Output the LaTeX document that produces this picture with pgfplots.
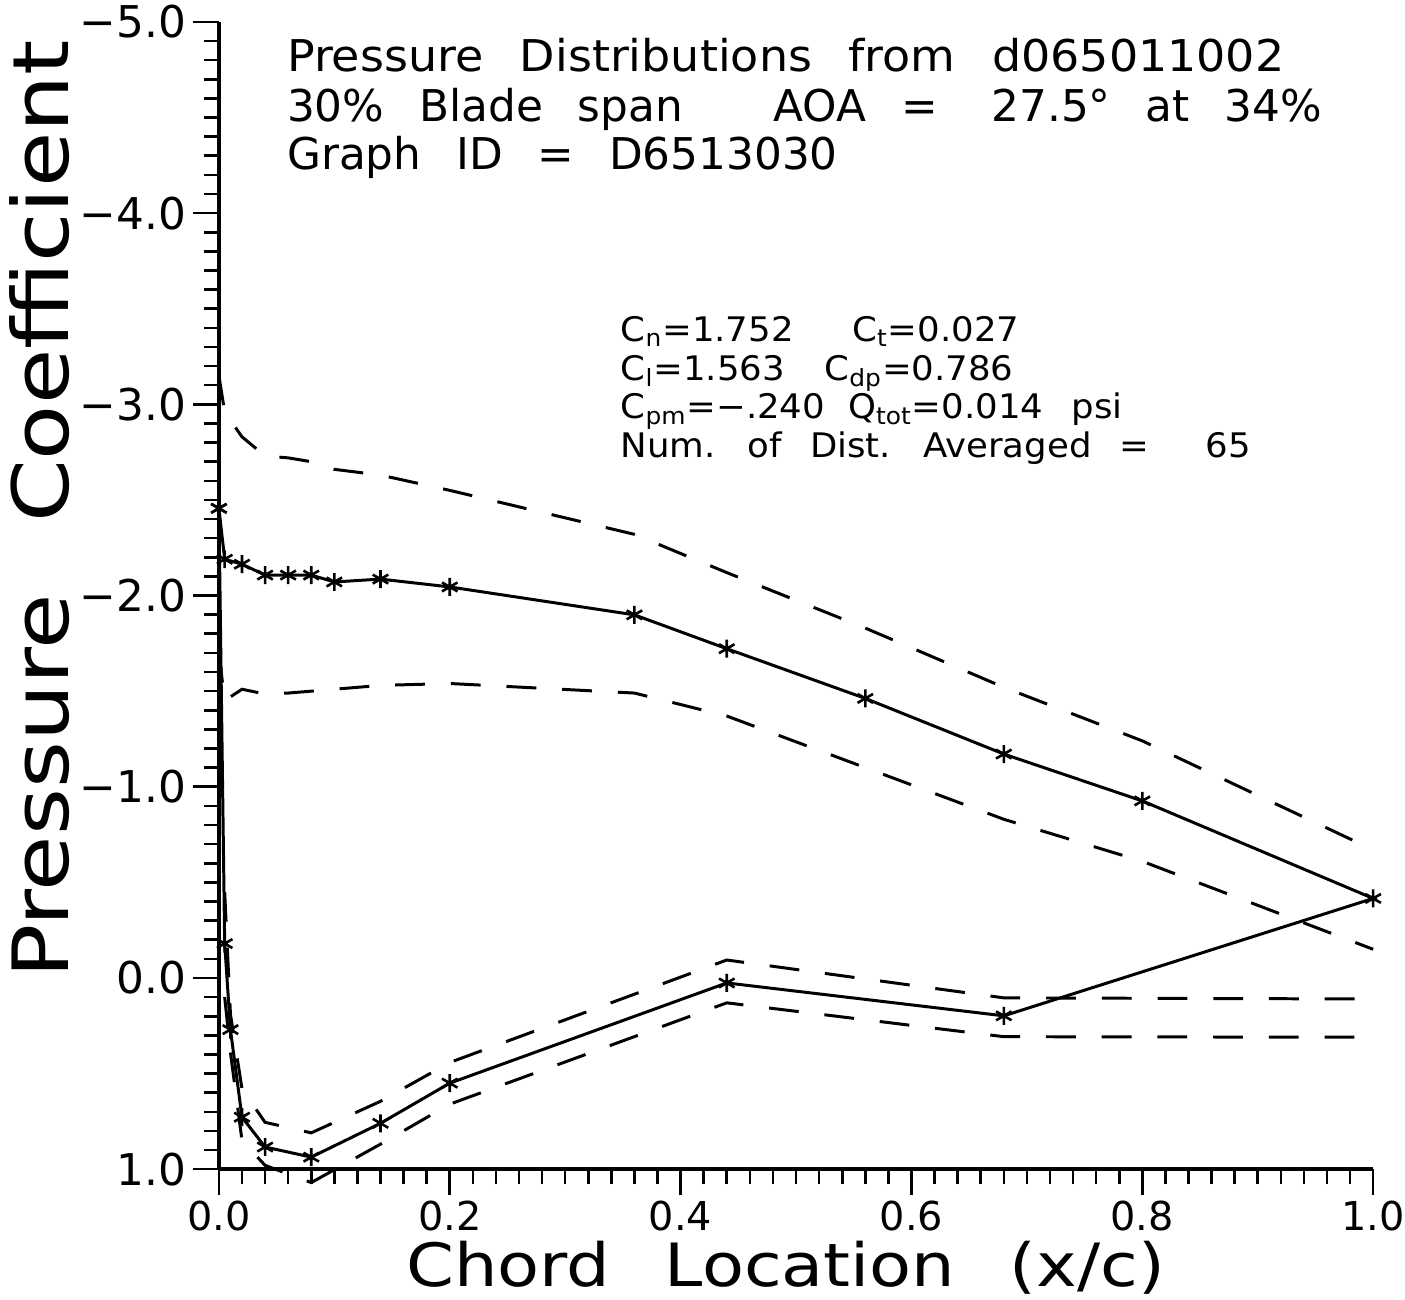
\documentclass[border=0pt]{standalone}
\usepackage{fontspec}
\setmainfont[WordSpace=2.5]{DejaVu Sans}
\usepackage{pgfplots}
\pgfplotsset{compat=1.18}

\begin{document}
\begin{tikzpicture}
\begin{axis}[
  scale only axis, width=580pt, height=576.5pt,
  xmin=0, xmax=1, ymin=-5, ymax=1, y dir=reverse,
  axis x line*=bottom, axis y line*=left,
  axis line style={line width=2pt},
  xtick={0,0.2,0.4,0.6,0.8,1},
  xticklabels={0.0,0.2,0.4,0.6,0.8,1.0},
  ytick={-5,-4,-3,-2,-1,0,1},
  yticklabels={−5.0,−4.0,−3.0,−2.0,−1.0,0.0,1.0},
  minor x tick num=9, minor y tick num=9,
  tick align=outside,
  major tick length=13pt, minor tick length=7.5pt,
  every tick/.style={black, line width=1.3pt},
  yticklabel style={font=\fontsize{22}{24}\selectfont},
  xticklabel style={font=\fontsize{20}{22}\selectfont, inner sep=1pt, yshift=-2pt},
  clip=false,
]
% mean distribution
\addplot[black, line width=1.5pt, mark=asterisk, mark size=4.5pt,
  mark options={solid, line width=1.3pt}] coordinates {
  (0,-2.456) (0.005,-2.19) (0.02,-2.164) (0.04,-2.107) (0.06,-2.107)
  (0.08,-2.107) (0.10,-2.071) (0.14,-2.086) (0.20,-2.045) (0.36,-1.899)
  (0.44,-1.722) (0.56,-1.462) (0.68,-1.171) (0.80,-0.926) (1.0,-0.416)
  (0.68,0.198) (0.44,0.026) (0.20,0.55) (0.14,0.760) (0.08,0.937)
  (0.04,0.884) (0.02,0.728) (0.01,0.27) (0.005,-0.18) (0,-2.456)
};
% upper surface envelopes
\addplot[black, line width=1.5pt, dash pattern=on 15pt off 13pt] coordinates {
  (0,-3.15) (0.005,-2.96) (0.02,-2.83) (0.04,-2.73) (0.06,-2.72)
  (0.08,-2.70) (0.10,-2.66) (0.14,-2.63) (0.20,-2.55) (0.36,-2.32)
  (0.44,-2.12) (0.56,-1.83) (0.68,-1.52) (0.80,-1.24) (1.0,-0.67)
};
\addplot[black, line width=1.5pt, dash pattern=on 15pt off 13pt] coordinates {
  (0,-1.70) (0.005,-1.45) (0.02,-1.51) (0.04,-1.485) (0.06,-1.49)
  (0.08,-1.50) (0.10,-1.51) (0.14,-1.53) (0.20,-1.54) (0.36,-1.49)
  (0.44,-1.37) (0.56,-1.10) (0.68,-0.83) (0.80,-0.61) (1.0,-0.15)
};
% lower surface envelopes
\addplot[black, line width=1.5pt, dash pattern=on 15pt off 13pt] coordinates {
  (0.005,-0.45) (0.01,0.19) (0.02,0.58) (0.04,0.755) (0.08,0.81)
  (0.14,0.645) (0.20,0.442) (0.44,-0.094) (0.68,0.104) (1.0,0.11)
};
\addplot[black, line width=1.5pt, dash pattern=on 15pt off 13pt] coordinates {
  (0.005,0.10) (0.01,0.39) (0.02,0.85) (0.04,0.98) (0.08,1.07)
  (0.14,0.869) (0.20,0.66) (0.44,0.13) (0.68,0.307) (1.0,0.31)
};
% titles
\node[anchor=base west, font=\fontsize{22}{24}\selectfont] at (axis cs:0.053,-4.74)
  {\scalebox{1.05}[1]{Pressure Distributions from d065011002}};
\node[anchor=base west, font=\fontsize{22}{24}\selectfont] at (axis cs:0.053,-4.48)
  {30\% Blade span\hspace{45.5pt}AOA =\hspace{27pt}27.5° at 34\%};
\node[anchor=base west, font=\fontsize{22}{24}\selectfont] at (axis cs:0.053,-4.23)
  {Graph ID = D6513030};
% coefficients
\node[anchor=base west, font=\fontsize{17}{19}\selectfont] at (axis cs:0.342,-3.33)
  {\scalebox{1.05}[1]{C\textsubscript{n}=1.752\hspace{28pt}C\textsubscript{t}=0.027}};
\node[anchor=base west, font=\fontsize{17}{19}\selectfont] at (axis cs:0.342,-3.127)
  {\scalebox{1.05}[1]{C\textsubscript{l}=1.563\hspace{19pt}C\textsubscript{dp}=0.786}};
\node[anchor=base west, font=\fontsize{17}{19}\selectfont] at (axis cs:0.342,-2.924)
  {\scalebox{1.05}[1]{C\textsubscript{pm}=−.240\hspace{11pt}Q\textsubscript{tot}=0.014 psi}};
\node[anchor=base west, font=\fontsize{17}{19}\selectfont] at (axis cs:0.342,-2.721)
  {\scalebox{1.05}[1]{Num. of Dist. Averaged =\hspace{27pt}65}};
% axis labels
\node[rotate=90, font=\fontsize{39}{42}\selectfont] at (axis cs:-0.155,-2.45)
  {\scalebox{1.16}[1]{Pressure Coefficient}};
\node[anchor=base, inner sep=0pt, font=\fontsize{30}{32}\selectfont] at (axis cs:0.491,1.615)
  {\scalebox{1.15}[1]{Chord Location (x/c)}};
\coordinate (LLc) at (axis cs:0,1);
\coordinate (URc) at (axis cs:1,-5);
\end{axis}
\pgfresetboundingbox
\path[use as bounding box] ([shift={(-110pt,-65.5pt)}]LLc) rectangle ([shift={(16pt,11pt)}]URc);
\end{tikzpicture}
\end{document}
